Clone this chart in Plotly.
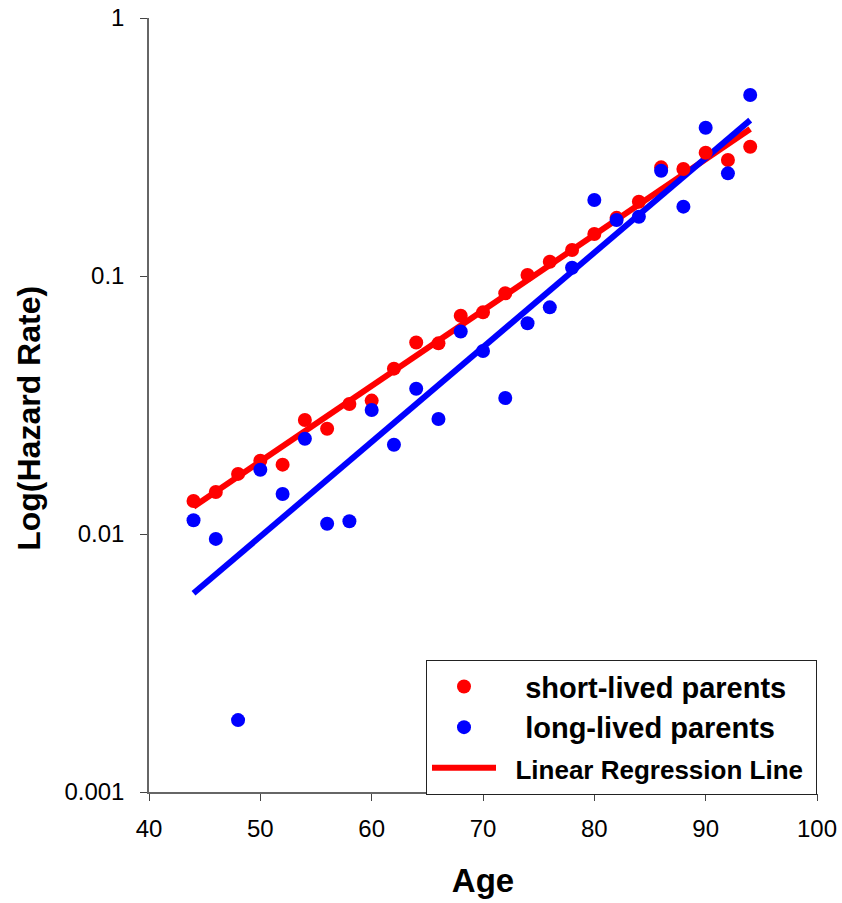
import plotly.graph_objects as go

ages = [44, 46, 48, 50, 52, 54, 56, 58, 60, 62, 64, 66, 68, 70, 72, 74, 76, 78, 80, 82, 84, 86, 88, 90, 92, 94]

short_lived = [0.01342, 0.01455, 0.0171, 0.01923, 0.01857, 0.02766, 0.02559, 0.0319, 0.03289, 0.04375,
               0.05521, 0.05483, 0.0701, 0.0723, 0.0857, 0.1009, 0.1136, 0.1261, 0.1455, 0.168,
               0.194, 0.2637, 0.260, 0.3006, 0.2815, 0.317]

long_lived = [0.0113, 0.00957, 0.0019, 0.01775, 0.01429, 0.0234, 0.01096, 0.0112, 0.03025, 0.02218,
              0.03658, 0.02792, 0.0609, 0.0512, 0.03366, 0.0656, 0.0756, 0.1077, 0.197, 0.1648,
              0.1698, 0.2559, 0.1857, 0.3757, 0.250, 0.503]

fit_ages = [44, 94]
short_fit = [0.01276, 0.371]
long_fit = [0.00589, 0.402]

y_tickvals = [0.001, 0.01, 0.1, 1]
y_ticktext = ["0.001", "0.01", "0.1", "1"]
x_tickvals = [40, 50, 60, 70, 80, 90, 100]

RED = "#ff0000"
BLUE = "#0000ff"
NB = "\u00a0"

fig = go.Figure()
fig.add_trace(go.Scatter(x=fit_ages, y=short_fit, mode="lines", line=dict(color=RED, width=6),
                         name="<span style='font-size:26px'>" + NB * 2 + "Linear Regression Line" + NB + "</span>",
                         legendrank=3))
fig.add_trace(go.Scatter(x=fit_ages, y=long_fit, mode="lines", line=dict(color=BLUE, width=6),
                         showlegend=False))
fig.add_trace(go.Scatter(x=ages, y=short_lived, mode="markers", marker=dict(color=RED, size=14),
                         name=NB * 3 + "short-lived parents", legendrank=1))
fig.add_trace(go.Scatter(x=ages, y=long_lived, mode="markers", marker=dict(color=BLUE, size=14),
                         name=NB * 3 + "long-lived parents", legendrank=2))

axis_font = "Liberation Sans, Arial, sans-serif"
fig.update_layout(
    width=842, height=903,
    margin=dict(l=149, r=25, t=18, b=111),
    paper_bgcolor="white", plot_bgcolor="white",
    font=dict(family=axis_font, color="black"),
    xaxis=dict(range=[40, 100], tickvals=x_tickvals, showgrid=False, zeroline=False,
               showline=True, linecolor="#666666", linewidth=1.5,
               ticks="outside", ticklen=7, tickcolor="#444444", automargin=False,
               ticklabeloverflow="allow",
               tickfont=dict(size=24, family=axis_font), ticklabelstandoff=7,
               title=dict(text="<b>Age</b>", font=dict(size=33, family=axis_font), standoff=28)),
    yaxis=dict(type="log", range=[-3, 0], tickvals=y_tickvals, ticktext=y_ticktext,
               showgrid=False, zeroline=False, automargin=False,
               ticklabeloverflow="allow",
               showline=True, linecolor="#666666", linewidth=1.5,
               ticks="outside", ticklen=7, tickcolor="#444444",
               tickfont=dict(size=24, family=axis_font), ticklabelstandoff=11,
               title=dict(text="<b>Log(Hazard Rate)" + NB * 3 + "</b>", font=dict(size=32, family=axis_font),
                          standoff=14)),
    showlegend=True,
    legend=dict(x=1, xanchor="right", y=-0.004, yanchor="bottom",
                bgcolor="white", bordercolor="#222222", borderwidth=1,
                font=dict(size=29, family=axis_font, weight="bold"),
                itemwidth=64, traceorder="normal"),
)

fig.write_html("out.html", config={"displayModeBar": False},
               post_script="document.body.style.margin='0';document.documentElement.style.overflow='hidden';")
